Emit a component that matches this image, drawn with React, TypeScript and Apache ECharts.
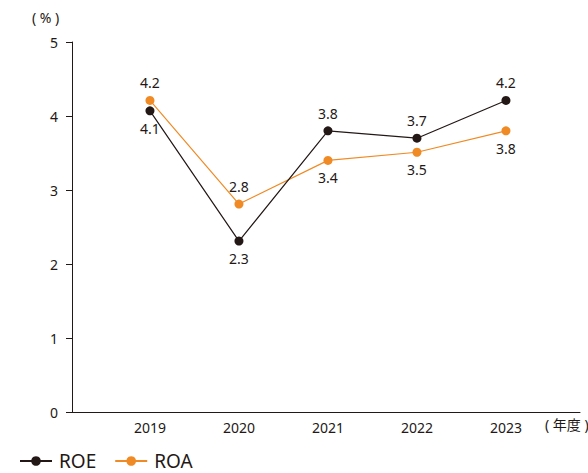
import React, { useEffect, useRef } from "react";
import * as echarts from "echarts";

const years = [2019, 2020, 2021, 2022, 2023];
const roe = [4.07, 2.31, 3.8, 3.7, 4.21];
const roa = [4.21, 2.81, 3.4, 3.51, 3.8];
const roeLabelPos = ["bottom", "bottom", "top", "top", "top"];
const roaLabelPos = ["top", "top", "bottom", "bottom", "bottom"];
const yTicks = [0, 1, 2, 3, 4, 5];

const FONT = "'Noto Sans', 'Noto Sans CJK JP', sans-serif";
const TEXT = "#231815";
const ROE_COLOR = "#231815";
const ROA_COLOR = "#f08a24";

export default function App() {
  const ref = useRef<HTMLDivElement>(null);
  useEffect(() => {
    const chart = echarts.init(ref.current!, null, { renderer: "svg" });
    const mk = (vals: number[], pos: string[]) =>
      vals.map((v, i) => ({
        value: [years[i], v],
        label: { position: pos[i] },
      }));
    chart.setOption({
      animation: false,
      textStyle: { fontFamily: FONT },
      grid: { left: 72, right: 8, top: 42, bottom: 61, containLabel: false },
      xAxis: {
        type: "value",
        min: 2018.124,
        max: 2023.832,
        axisLine: { show: true, lineStyle: { color: TEXT, width: 1 } },
        axisTick: { show: false },
        splitLine: { show: false },
        axisLabel: {
          customValues: years,
          color: TEXT,
          fontSize: 14,
          fontFamily: FONT,
          margin: 8,
          formatter: (v: number) => String(Math.round(v)),
        },
      },
      yAxis: {
        type: "value",
        min: 0,
        max: 5,
        interval: 1,
        axisLine: { show: true, lineStyle: { color: TEXT, width: 1 } },
        axisTick: { show: true, length: 6, lineStyle: { color: TEXT } },
        splitLine: { show: false },
        axisLabel: {
          color: TEXT,
          fontSize: 14,
          fontFamily: FONT,
          margin: 14,
          customValues: yTicks,
        },
      },
      legend: {
        left: 19,
        top: 451,
        padding: 0,
        itemWidth: 32,
        itemHeight: 12,
        itemGap: 18,
        textStyle: {
          color: TEXT,
          fontSize: 19,
          lineHeight: 20,
          fontFamily: FONT,
          padding: [0, 0, 0, 2],
        },
        data: ["ROE", "ROA"],
      },
      series: [
        {
          name: "ROE",
          type: "line",
          data: mk(roe, roeLabelPos),
          symbol: "circle",
          symbolSize: 9,
          color: ROE_COLOR,
          lineStyle: { color: ROE_COLOR, width: 1.2 },
          itemStyle: { color: ROE_COLOR },
          label: {
            show: true,
            color: TEXT,
            fontSize: 14,
            fontFamily: FONT,
            distance: 6,
            formatter: (p: any) => p.value[1].toFixed(1),
          },
          z: 3,
        },
        {
          name: "ROA",
          type: "line",
          data: mk(roa, roaLabelPos),
          symbol: "circle",
          symbolSize: 9,
          color: ROA_COLOR,
          lineStyle: { color: ROA_COLOR, width: 1.2 },
          itemStyle: { color: ROA_COLOR },
          label: {
            show: true,
            color: TEXT,
            fontSize: 14,
            fontFamily: FONT,
            distance: 6,
            formatter: (p: any) => p.value[1].toFixed(1),
          },
          z: 2,
        },
      ],
      graphic: [
        {
          type: "text",
          left: 32,
          top: 10,
          style: { text: "( % )", fill: TEXT, fontSize: 14, fontFamily: FONT },
        },
        {
          type: "text",
          left: 545,
          top: 417,
          style: { text: "( 年度 )", fill: TEXT, fontSize: 14, fontFamily: FONT },
        },
      ],
    });
    return () => chart.dispose();
  }, []);
  return (
    <div
      ref={ref}
      style={{ position: "absolute", left: 0, top: 0, width: 588, height: 473 }}
    />
  );
}
